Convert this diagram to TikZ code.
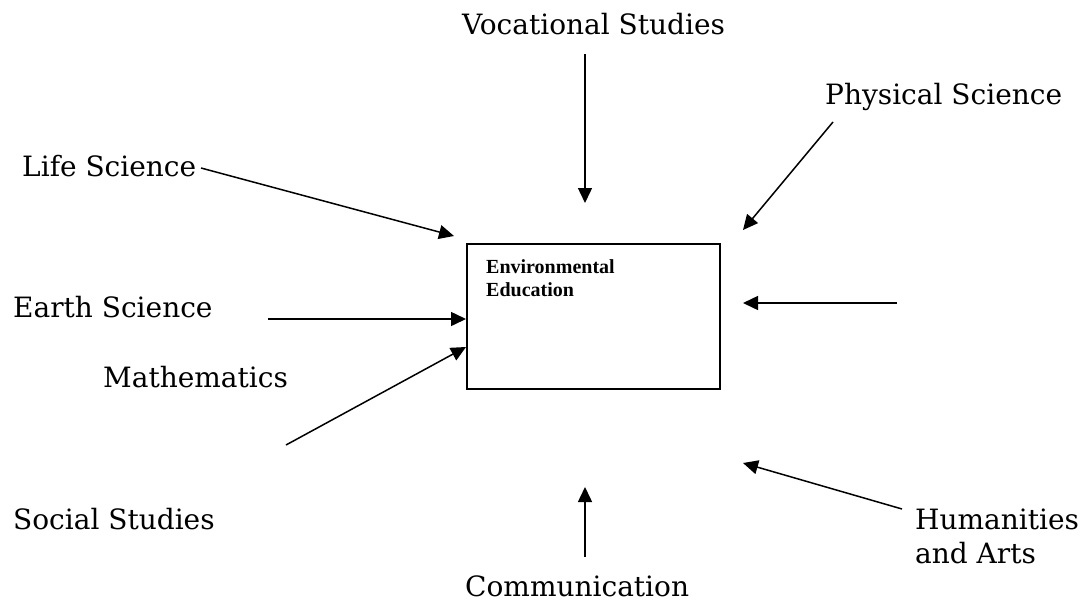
\documentclass[tikz,border=0pt]{standalone}
\usepackage{fontspec}
\setmainfont{DejaVu Serif}
\newfontfamily\boxfont{Liberation Serif}
\usetikzlibrary{arrows.meta}
\begin{document}
\begin{tikzpicture}[x=1pt,y=-1pt,
  lbl/.style={anchor=base west,inner sep=0pt,font=\fontsize{28}{34}\selectfont},
  feed/.style={line width=1.5pt,-{Triangle[length=15pt,width=14pt]}},
  eebox/.style={draw,line width=2pt,inner sep=0pt}]
\useasboundingbox (0,0) rectangle (1091,604);
% central box
\node[eebox,minimum width=253pt,minimum height=145pt] (ee) at (593.5,316.5) {};
\node[anchor=north west,inner sep=0pt,align=left,font=\boxfont\bfseries\fontsize{20}{23}\selectfont] (eet) at (486,259.5) {Environmental\\Education};
% labels
\node[lbl] (voc) at (462,35) {Vocational Studies};
\node[lbl] (phy) at (825,105) {Physical Science};
\node[lbl] (life) at (22,177) {Life Science};
\node[lbl] (earth) at (13,317) {Earth Science};
\node[lbl] (math) at (103,387) {Mathematics};
\node[lbl] (soc) at (13,529) {Social Studies};
\node[lbl] (hum) at (915,529) {Humanities};
\node[lbl] (arts) at (915,563) {and Arts};
\node[lbl] (com) at (465,596) {Communication};
% arrow end points
\coordinate (vocS) at (585,54);   \coordinate (vocT) at (585,203);
\coordinate (phyS) at (833,122);  \coordinate (phyT) at (743,230);
\coordinate (lifeS) at (201,168); \coordinate (lifeT) at (454,236);
\coordinate (earthS) at (268,319);\coordinate (earthT) at (ee.west |- 0,319);
\coordinate (mathS) at (286,445); \coordinate (mathT) at (ee.west |- 0,347);
\coordinate (rgtS) at (897,303);  \coordinate (rgtT) at (743,303);
\coordinate (humS) at (902,509);  \coordinate (humT) at (743,463);
\coordinate (comS) at (585,557);  \coordinate (comT) at (585,487);
% arrows
\draw[feed] (vocS) -- (vocT);
\draw[feed] (phyS) -- (phyT);
\draw[feed] (lifeS) -- (lifeT);
\draw[feed] (earthS) -- (earthT);
\draw[feed] (mathS) -- (mathT);
\draw[feed] (rgtS) -- (rgtT);
\draw[feed] (humS) -- (humT);
\draw[feed] (comS) -- (comT);
\end{tikzpicture}
\end{document}
